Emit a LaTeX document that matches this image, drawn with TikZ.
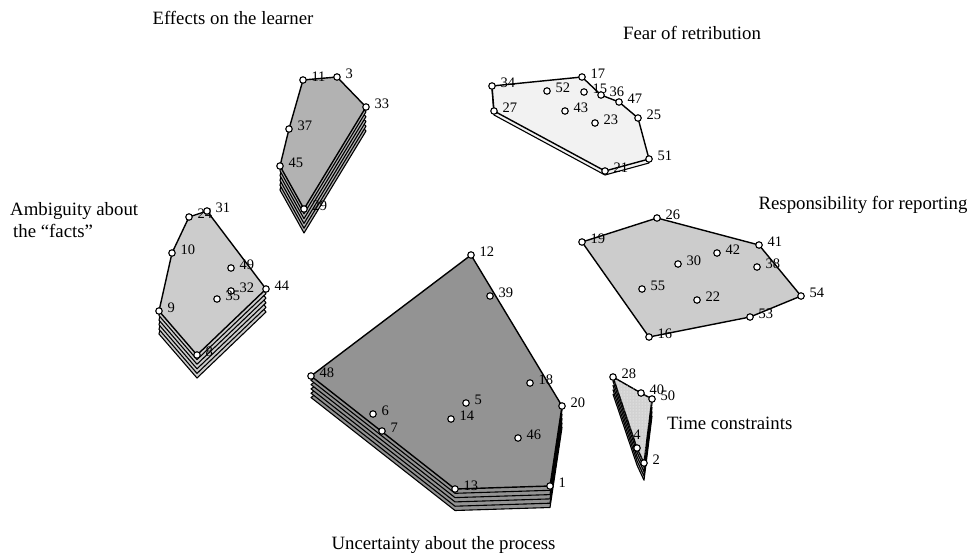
\documentclass[tikz,border=0pt]{standalone}
\usepackage{fontspec}
\setmainfont{Liberation Serif}
\usetikzlibrary{backgrounds,patterns}
\newcommand\titlefont{\fontsize{18.8}{22}\selectfont}
\newcommand\numfont{\fontsize{14.5}{16}\selectfont}
\begin{document}
\begin{tikzpicture}[x=1pt,y=-1pt]
    % --- 样式设置 ---
    \tikzstyle{pt}=[circle, draw, fill=white, inner sep=0pt, minimum size=6.5pt, line width=1.1pt]
    \tikzstyle{num}=[font=\numfont, inner sep=1pt, label distance=3.5pt, yshift=3pt]
    \tikzstyle{hull}=[draw, line width=1.4pt, line join=round]
    \tikzstyle{sheet}=[draw, line width=1.1pt, line join=round]
    \tikzstyle{title}=[font=\titlefont, inner sep=0pt]

    \useasboundingbox (0,0) rectangle (971,554);

    % 1. 各点 (编号)
    \foreach \n/\x/\y in {11/303/80, 3/337/77, 33/366/107, 37/289/129, 45/280/166, 29/304/209,
        24/189/217, 31/207/211, 10/172/253, 49/231/268, 44/266/289, 32/231/291, 35/217/299, 9/159/311, 8/197/355,
        34/492/86, 17/582/77, 52/547/91, 15/584/92, 36/601/95, 47/619/102, 43/565/111, 27/494/111,
        25/638/118, 23/595/123, 51/649/159, 21/605/171,
        26/657/218, 19/582/242, 41/759/245, 42/717/253, 30/678/264, 38/757/267, 55/642/289,
        22/697/300, 54/801/296, 53/750/317, 16/649/337,
        12/471/255, 39/490/296, 48/311/376, 18/530/383, 20/562/406, 5/466/403, 6/373/414,
        14/451/419, 7/382/431, 46/518/438, 13/455/489, 1/550/486,
        28/613/377, 40/641/393, 50/652/399, 2/644/463}
        \node[pt, label={[num]right:\n}] (p\n) at (\x,\y) {};
    \node[pt, label={[num, yshift=-3pt]above:4}] (p4) at (637,448) {};

    % 2. 各簇的凸包 (叠层表示重复)
    \begin{scope}[on background layer]
    % Effects on the learner
    \foreach \dy in {-24,-19.2,-14.4,-9.6,-4.8}
        \path[sheet, fill=gray!60] ([yshift=\dy]p45.center) -- ([yshift=\dy]p37.center) -- ([yshift=\dy]p11.center)
            -- ([yshift=\dy]p3.center) -- ([yshift=\dy]p33.center) -- ([yshift=\dy]p29.center) -- cycle;
    \path[hull, fill=gray!60] (p45.center) -- (p37.center) -- (p11.center) -- (p3.center) -- (p33.center) -- (p29.center) -- cycle;

    % Ambiguity about the "facts"
    \foreach \dy in {-23,-18.4,-13.8,-9.2,-4.6}
        \path[sheet, fill=gray!40] ([yshift=\dy]p9.center) -- ([yshift=\dy]p10.center) -- ([yshift=\dy]p24.center)
            -- ([yshift=\dy]p31.center) -- ([yshift=\dy]p44.center) -- ([yshift=\dy]p8.center) -- cycle;
    \path[hull, fill=gray!40] (p9.center) -- (p10.center) -- (p24.center) -- (p31.center) -- (p44.center) -- (p8.center) -- cycle;

    % Fear of retribution
    \path[sheet, fill=gray!10] ([yshift=-4]p34.center) -- ([yshift=-4]p17.center) -- ([yshift=-4]p36.center)
        -- ([yshift=-4]p47.center) -- ([yshift=-4]p25.center) -- ([yshift=-4]p51.center)
        -- ([yshift=-4]p21.center) -- ([yshift=-4]p27.center) -- cycle;
    \path[hull, fill=gray!10] (p34.center) -- (p17.center) -- (p36.center) -- (p47.center) -- (p25.center)
        -- (p51.center) -- (p21.center) -- (p27.center) -- cycle;

    % Responsibility for reporting
    \path[hull, fill=gray!40] (p19.center) -- (p26.center) -- (p41.center) -- (p54.center) -- (p53.center) -- (p16.center) -- cycle;

    % Uncertainty about the process
    \foreach \dy in {-21.5,-17.2,-12.9,-8.6,-4.3}
        \path[sheet, fill=gray!85] ([yshift=\dy]p48.center) -- ([yshift=\dy]p12.center) -- ([yshift=\dy]p20.center)
            -- ([yshift=\dy]p1.center) -- ([yshift=\dy]p13.center) -- cycle;
    \path[hull, fill=gray!85] (p48.center) -- (p12.center) -- (p20.center) -- (p1.center) -- (p13.center) -- cycle;

    % Time constraints
    \foreach \dy in {-17.2,-12.9,-8.6,-4.3}
        \path[sheet, fill=gray!60] ([yshift=\dy]p28.center) -- ([yshift=\dy]p40.center) -- ([yshift=\dy]p50.center)
            -- ([yshift=\dy]p2.center) -- ([yshift=\dy]p4.center) -- cycle;
    \path[hull, fill=gray!35] (p28.center) -- (p40.center) -- (p50.center) -- (p2.center) -- (p4.center) -- cycle;
    \fill[pattern=dots, pattern color=white] (p28.center) -- (p40.center) -- (p50.center) -- (p2.center) -- (p4.center) -- cycle;
    \end{scope}

    % 3. 文字标注
    \node[title] (efftitle) at (233,18) {Effects on the learner};
    \node[title] (feartitle) at (692,33) {Fear of retribution};
    \node[title, anchor=base west] (ambtitle) at (10,215) {Ambiguity about};
    \node[title, anchor=base west] (ambtitle2) at (13,237.7) {the “facts”};
    \node[title, anchor=base] (resptitle) at (863,209.5) {Responsibility for reporting};
    \node[title, anchor=base west] (timetitle) at (667,429.5) {Time constraints};
    \node[title, anchor=base] (unctitle) at (443.5,549.5) {Uncertainty about the process};

\end{tikzpicture}
\end{document}
